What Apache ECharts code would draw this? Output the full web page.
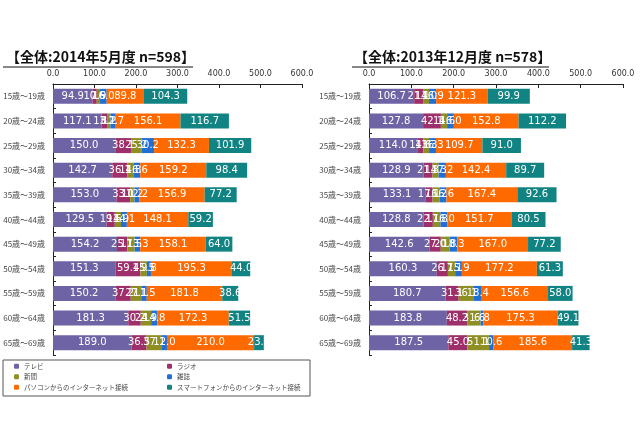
<!DOCTYPE html>
<html>
<head>
<meta charset="utf-8">
<script src="https://cdn.jsdelivr.net/npm/echarts@6/dist/echarts.min.js"></script>
<style>
html,body{margin:0;padding:0;background:#fff;}
#chart{width:640px;height:426px;}
</style>
</head>
<body>
<div id="chart"></div>
<script>
var categories = ['15歳～19歳','20歳～24歳','25歳～29歳','30歳～34歳','35歳～39歳','40歳～44歳','45歳～49歳','50歳～54歳','55歳～59歳','60歳～64歳','65歳～69歳'];
var seriesNames = ['テレビ','ラジオ','新聞','雑誌','パソコンからのインターネット接続','スマートフォンからのインターネット接続'];
var xTicks = [0, 100, 200, 300, 400, 500, 600];

// 2014年5月度 n=598
var tv14    = [94.9, 117.1, 150.0, 142.7, 153.0, 129.5, 154.2, 151.3, 150.2, 181.3, 189.0];
var radio14 = [10.6, 13.1, 38.1, 36.1, 33.1, 19.5, 25.1, 59.4, 37.2, 30.2, 36.5];
var paper14 = [7.9, 8.2, 25.2, 14.8, 10.2, 14.9, 17.5, 15.5, 27.1, 24.9, 37.1];
var mag14   = [16.0, 12.7, 30.2, 16.6, 12.2, 14.1, 13.3, 9.8, 11.5, 14.8, 12.0];
var pc14    = [89.8, 156.1, 132.3, 159.2, 156.9, 148.1, 158.1, 195.3, 181.8, 172.3, 210.0];
var sp14    = [104.3, 116.7, 101.9, 98.4, 77.2, 59.2, 64.0, 44.0, 38.6, 51.5, 23.4];

// 2013年12月度 n=578
var tv13    = [106.7, 127.8, 114.0, 128.9, 133.1, 128.8, 142.6, 160.3, 180.7, 183.8, 187.5];
var radio13 = [21.1, 42.1, 14.6, 21.3, 17.1, 22.1, 27.0, 26.1, 31.1, 48.2, 45.0];
var paper13 = [14.0, 14.6, 13.3, 14.3, 16.2, 17.8, 20.8, 17.1, 36.1, 31.6, 51.1];
var mag13   = [16.9, 16.0, 16.3, 17.2, 16.6, 16.0, 18.3, 15.9, 18.4, 6.8, 10.6];
var pc13    = [121.3, 152.8, 109.7, 142.4, 167.4, 151.7, 167.0, 177.2, 156.6, 175.3, 185.6];
var sp13    = [99.9, 112.2, 91.0, 89.7, 92.6, 80.5, 77.2, 61.3, 58.0, 49.1, 41.3];

var colors = ['#6e63a4', '#9e2f6b', '#8e8e22', '#1f6fd4', '#ff6a00', '#128383'];

var chart = echarts.init(document.getElementById('chart'), null, {renderer: 'canvas'});

var numFont = 'DejaVu Sans';
var jpFont = 'Noto Sans CJK JP';

function xAxisFor(gi) {
  return {
    gridIndex: gi, type: 'value', position: 'top',
    min: xTicks[0], max: xTicks[xTicks.length - 1], interval: 100,
    axisLine: {show: true, lineStyle: {color: '#222', width: 1}},
    axisTick: {show: true, inside: true, length: 4, lineStyle: {color: '#222'}},
    splitLine: {show: false},
    axisLabel: {formatter: function (v) { return v.toFixed(1); }, fontSize: 8, color: '#333', fontFamily: numFont, margin: 6}
  };
}
function yAxisFor(gi) {
  return {
    gridIndex: gi, type: 'category', inverse: true, data: categories,
    axisLine: {show: true, lineStyle: {color: '#222', width: 1}},
    axisTick: {show: true, inside: true, length: 3, lineStyle: {color: '#222'}},
    axisLabel: {fontSize: 8, color: '#444', fontFamily: jpFont, margin: 8}
  };
}

var data14 = [tv14, radio14, paper14, mag14, pc14, sp14];
var data13 = [tv13, radio13, paper13, mag13, pc13, sp13];

var series = [];
[data14, data13].forEach(function (set, gi) {
  set.forEach(function (arr, si) {
    series.push({
      name: seriesNames[si], type: 'bar', stack: 'total' + gi,
      xAxisIndex: gi, yAxisIndex: gi,
      data: arr, barWidth: 15,
      itemStyle: {color: colors[si]},
      label: {show: true, position: 'inside', color: '#fff', fontSize: 10, fontFamily: numFont,
        formatter: function (p) { return p.value.toFixed(1); }},
      emphasis: {disabled: true}
    });
  });
});

var legendText = {fontSize: 6.5, color: '#444', fontFamily: jpFont};

chart.setOption({
  animation: false,
  color: colors,
  title: [
    {text: '【全体:2014年5月度 n=598】', left: 6, top: 50, textStyle: {fontSize: 14, fontWeight: 'bold', color: '#111', fontFamily: jpFont}, padding: 0},
    {text: '【全体:2013年12月度 n=578】', left: 354, top: 50, textStyle: {fontSize: 14, fontWeight: 'bold', color: '#111', fontFamily: jpFont}, padding: 0}
  ],
  grid: [
    {left: 53, top: 84, width: 249, height: 271},
    {left: 369, top: 84, width: 254, height: 271}
  ],
  xAxis: [xAxisFor(0), xAxisFor(1)],
  yAxis: [yAxisFor(0), yAxisFor(1)],
  legend: [
    {orient: 'vertical', left: 14, top: 363, itemWidth: 5, itemHeight: 5, itemGap: 4, padding: 0,
      data: [seriesNames[0], seriesNames[2], seriesNames[4]], textStyle: legendText, selectedMode: false},
    {orient: 'vertical', left: 167, top: 363, itemWidth: 5, itemHeight: 5, itemGap: 4, padding: 0,
      data: [seriesNames[1], seriesNames[3], seriesNames[5]], textStyle: legendText, selectedMode: false}
  ],
  graphic: [
    {type: 'line', shape: {x1: 3, y1: 67, x2: 193, y2: 67}, style: {stroke: '#111', lineWidth: 1.2}},
    {type: 'line', shape: {x1: 352, y1: 67, x2: 549, y2: 67}, style: {stroke: '#111', lineWidth: 1.2}},
    {type: 'rect', shape: {x: 3, y: 360, width: 307, height: 36}, style: {fill: 'none', stroke: '#555', lineWidth: 1}}
  ],
  series: series
});
</script>
</body>
</html>
